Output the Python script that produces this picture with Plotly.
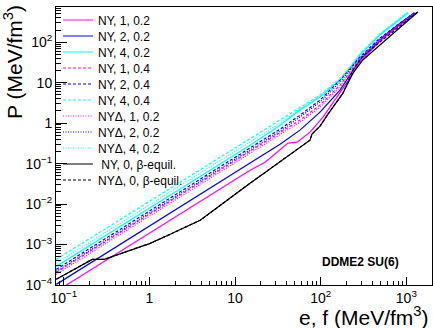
import plotly.graph_objects as go

# ---------------- data ----------------
names = ["NY, 1, 0.2", "NY, 2, 0.2", "NY, 4, 0.2",
         "NY, 1, 0.4", "NY, 2, 0.4", "NY, 4, 0.4",
         "NYΔ, 1, 0.2", "NYΔ, 2, 0.2", "NYΔ, 4, 0.2",
         " NY, 0, β-equil.", "NYΔ, 0, β-equil."]
colors = ["#ff00ff", "#0000ff", "#00ffff",
          "#ff00ff", "#0000ff", "#00ffff",
          "#ff00ff", "#0000ff", "#00ffff",
          "#000000", "#000000"]
dashes = ["solid", "solid", "solid",
          "3px,2px", "3px,2px", "3px,2px",
          "1px,1.5px", "1px,1.5px", "1px,1.5px",
          "solid", "3px,2px"]

e_ny1_02 = [0.0815, 14.96, 22.4, 33.5, 41.5, 52.9, 75.0, 106.4, 139.2, 182, 220, 287, 492, 841, 1294]
p_ny1_02 = [6.95e-5, 0.0687, 0.108, 0.215, 0.320, 0.339, 0.599, 1.41, 3.13, 7.35, 13.0, 32.4, 107, 267, 528]

e_ny2_02 = [0.0815, 14.96, 33.5, 57.3, 98.2, 168, 287, 492, 841, 1260]
p_ny2_02 = [1.035e-4, 0.102, 0.302, 0.671, 1.87, 6.56, 36.3, 113, 282, 528]

e_ny4_02 = [0.0815, 14.96, 33.5, 57.3, 98.2, 168, 220, 287, 492, 841, 1045]
p_ny4_02 = [2.88e-4, 0.285, 0.892, 2.10, 4.40, 11.6, 23.0, 48.2, 151, 375, 528]

e_ny1_04 = [0.0815, 14.96, 33.5, 57.3, 98.2, 168, 287, 492, 841, 1260]
p_ny1_04 = [2.05e-4, 0.203, 0.565, 1.19, 2.79, 8.72, 38.4, 113, 282, 528]

e_ny2_04 = [0.0815, 14.96, 33.5, 57.3, 98.2, 168, 287, 492, 841, 1227]
p_ny2_04 = [2.43e-4, 0.241, 0.710, 1.58, 3.71, 11.6, 43.0, 127, 299, 528]

e_ny4_04 = [0.0815, 14.96, 33.5, 57.3, 98.2, 168, 220, 287, 492, 841, 1045]
p_ny4_04 = [4.30e-4, 0.425, 1.19, 2.49, 4.93, 12.3, 24.3, 51.0, 160, 375, 528]

e_nyd1_02 = [0.0815, 14.96, 33.5, 57.3, 98.2, 168, 287, 492, 841, 1260]
p_nyd1_02 = [1.83e-4, 0.181, 0.505, 1.06, 2.49, 7.78, 36.3, 113, 282, 528]

e_nyd2_02 = [0.0815, 14.96, 33.5, 57.3, 98.2, 168, 287, 492, 841, 1227]
p_nyd2_02 = [2.17e-4, 0.215, 0.634, 1.41, 3.31, 10.35, 40.6, 120, 299, 528]

e_nyd4_02 = [0.0815, 14.96, 33.5, 57.3, 98.2, 168, 220, 287, 492, 841, 1045]
p_nyd4_02 = [3.43e-4, 0.339, 1.00, 2.22, 4.66, 12.3, 24.3, 51.0, 160, 397, 559]

e_ny_beta = [0.0815, 0.2145, 0.296, 1.019, 1.744, 3.905, 14.96, 57.3, 75.0, 79.1, 98.2, 121.7,
             182, 238, 311, 492, 841, 1365]
p_ny_beta = [1.38e-4, 4.30e-4, 4.30e-4, 1.07e-3, 1.79e-3, 3.97e-3, 0.0327, 0.255, 0.380, 0.534,
             0.843, 1.67, 5.53, 17.3, 36.3, 85.3, 225, 559]

e_nyd_beta = [0.0815, 0.2145, 0.296, 1.019, 1.744, 3.905, 14.96, 57.3, 75.0, 79.1, 98.2, 121.7,
              182, 238, 311, 492, 841, 1365]
p_nyd_beta = [1.38e-4, 4.30e-4, 4.30e-4, 1.07e-3, 1.79e-3, 3.97e-3, 0.0327, 0.255, 0.380, 0.534,
              0.843, 1.67, 5.53, 20.5, 45.5, 101, 252, 559]

series_e = [e_ny1_02, e_ny2_02, e_ny4_02, e_ny1_04, e_ny2_04, e_ny4_04,
            e_nyd1_02, e_nyd2_02, e_nyd4_02, e_ny_beta, e_nyd_beta]
series_p = [p_ny1_02, p_ny2_02, p_ny4_02, p_ny1_04, p_ny2_04, p_ny4_04,
            p_nyd1_02, p_nyd2_02, p_nyd4_02, p_ny_beta, p_nyd_beta]

x_tickvals = [0.1, 1, 10, 100, 1000]
x_ticktext = ["10<sup>−1</sup>", "1", "10", "10<sup>2</sup>", "10<sup>3</sup>"]
y_tickvals = [1e-4, 1e-3, 1e-2, 1e-1, 1, 10, 100]
y_ticktext = ["10<sup>−4</sup>", "10<sup>−3</sup>", "10<sup>−2</sup>", "10<sup>−1</sup>",
              "1", "10", "10<sup>2</sup>"]
label = "DDME2 SU(6)"

# ---------------- figure ----------------
W, H = 433, 328
ML, MR, MT, MB = 56, 1, 7, 43
PW, PH = W - ML - MR, H - MT - MB
FONT = "Liberation Sans, Arial, Helvetica, sans-serif"

fig = go.Figure()
legend_keys = ["legend"] + ["legend%d" % i for i in range(2, len(names) + 1)]
for i in range(len(names)):
    fig.add_trace(go.Scatter(
        x=series_e[i], y=series_p[i], mode="lines", name=names[i],
        line=dict(color=colors[i], width=1.2, dash=dashes[i]),
        legend=legend_keys[i], showlegend=True))

layout_legends = {}
for i, key in enumerate(legend_keys):
    row_y = 20 + 16 * i
    layout_legends[key] = dict(
        x=(58 - ML) / PW, y=1 - (row_y - MT) / PH,
        xanchor="left", yanchor="middle",
        bgcolor="rgba(0,0,0,0)", borderwidth=0, itemwidth=30,
        font=dict(family=FONT, size=12, color="black"))

minor_x = [m * 10 ** k for k in range(-2, 4) for m in range(2, 10)]
minor_y = [m * 10 ** k for k in range(-5, 3) for m in range(2, 10)]

fig.update_layout(
    width=W, height=H,
    margin=dict(l=ML, r=MR, t=MT, b=MB),
    paper_bgcolor="white", plot_bgcolor="white",
    font=dict(family=FONT, color="black"),
    **layout_legends,
    xaxis=dict(type="log", range=[-1.092, 3.30], showgrid=False, zeroline=False,
               showline=True, linecolor="black", linewidth=1, mirror=True,
               ticks="inside", ticklen=8, tickcolor="black",
               tickmode="array", tickvals=x_tickvals, ticktext=x_ticktext,
               tickfont=dict(family=FONT, size=14, color="black"),
               minor=dict(ticks="inside", ticklen=4, tickcolor="black",
                          tickmode="array", tickvals=minor_x, showgrid=False)),
    yaxis=dict(type="log", range=[-4, 2.87], showgrid=False, zeroline=False,
               showline=True, linecolor="black", linewidth=1, mirror=True,
               ticks="inside", ticklen=11, tickcolor="black",
               tickmode="array", tickvals=y_tickvals, ticktext=y_ticktext,
               tickfont=dict(family=FONT, size=14, color="black"),
               minor=dict(ticks="inside", ticklen=5, tickcolor="black",
                          tickmode="array", tickvals=minor_y, showgrid=False)),
    annotations=[
        dict(text="e, f (MeV/fm<sup>3</sup>)", xref="paper", yref="paper",
             x=(431 - ML) / PW, y=(MT + PH - 316) / PH, xanchor="right", yanchor="middle",
             showarrow=False, font=dict(family=FONT, size=21, color="black")),
        dict(text="P (MeV/fm<sup>3</sup>)", xref="paper", yref="paper",
             x=(13 - ML) / PW, y=1 + (MT - 3) / PH, xanchor="center", yanchor="top",
             textangle=-90, showarrow=False, font=dict(family=FONT, size=21, color="black")),
        dict(text="<b>" + label + "</b>", xref="paper", yref="paper",
             x=(360 - ML) / PW, y=1 - (262 - MT) / PH, xanchor="center", yanchor="middle",
             showarrow=False, font=dict(family=FONT, size=12, color="black")),
    ],
)

fig.write_html("out.html")
